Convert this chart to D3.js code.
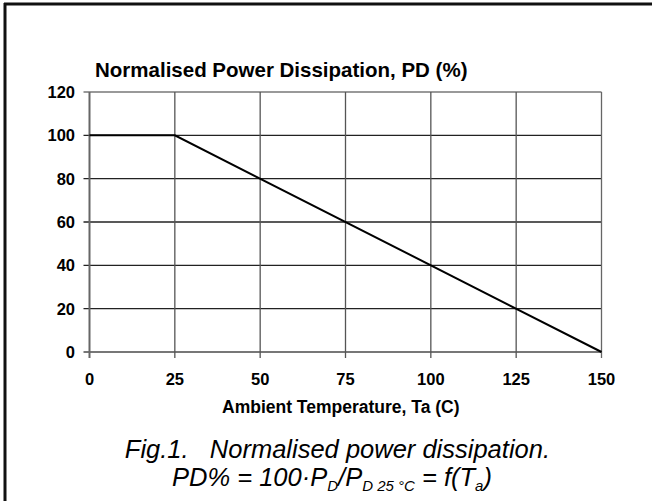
<!DOCTYPE html>
<html>
<head>
<meta charset="utf-8">
<script src="https://cdn.jsdelivr.net/npm/d3@7"></script>
<style>
  body { margin: 0; background: white; }
  svg { display: block; font-family: 'Liberation Sans', Arial, sans-serif; }
</style>
</head>
<body>
<svg id="fig_pd" width="652" height="501"></svg>
<script>
'use strict';

// curve data
var temps = [0, 25, 150];
var pd_pct = [100, 100, 0];

// ticks
var x_ticks = [0, 25, 50, 75, 100, 125, 150];
var y_ticks = [0, 20, 40, 60, 80, 100, 120];

var svg = d3.select('#fig_pd');

// frame (top + left only visible)
svg.append('line').attr('x1', 4).attr('x2', 652).attr('y1', 4).attr('y2', 4)
    .attr('stroke', '#111').attr('stroke-width', 3);
svg.append('line').attr('x1', 5).attr('x2', 5).attr('y1', 3).attr('y2', 501)
    .attr('stroke', '#111').attr('stroke-width', 3);

var x = d3.scaleLinear().domain([0, 150]).range([89.5, 601.5]);
var y = d3.scaleLinear().domain([0, 120]).range([352, 92]);

var g = svg.append('g');

// horizontal grid
g.selectAll('line.hgrid')
    .data(y_ticks)
    .enter()
    .append('line')
    .attr('class', 'hgrid')
    .attr('x1', x(0) - 6)
    .attr('x2', x(150))
    .attr('y1', function(d) { return y(d); })
    .attr('y2', function(d) { return y(d); })
    .attr('stroke', function(d) { return (d == 120 || d == 0) ? '#777' : '#222'; })
    .attr('stroke-width', function(d) { return d == 0 ? 2 : 1.3; });

// vertical grid
g.selectAll('line.vgrid')
    .data(x_ticks)
    .enter()
    .append('line')
    .attr('class', 'vgrid')
    .attr('x1', function(d) { return x(d); })
    .attr('x2', function(d) { return x(d); })
    .attr('y1', y(120))
    .attr('y2', y(0) + 6)
    .attr('stroke', function(d) { return (d == 0 || d == 150) ? '#666' : '#555'; })
    .attr('stroke-width', function(d) { return d == 0 ? 2 : 1.3; });

// y tick labels
g.selectAll('text.ylab')
    .data(y_ticks)
    .enter()
    .append('text')
    .attr('x', 75)
    .attr('y', function(d) { return y(d) + 6; })
    .attr('text-anchor', 'end')
    .attr('font-size', 16.5)
    .attr('font-weight', 'bold')
    .text(function(d) { return d; });

// x tick labels
g.selectAll('text.xlab')
    .data(x_ticks)
    .enter()
    .append('text')
    .attr('x', function(d) { return x(d); })
    .attr('y', 385)
    .attr('text-anchor', 'middle')
    .attr('font-size', 16.5)
    .attr('font-weight', 'bold')
    .text(function(d) { return d; });

// curve
var line = d3.line()
    .x(function(d, i) { return x(temps[i]); })
    .y(function(d, i) { return y(pd_pct[i]); });
g.append('path')
    .attr('d', line(temps))
    .attr('fill', 'none')
    .attr('stroke', '#000')
    .attr('stroke-width', 2);

// titles
svg.append('text')
    .attr('x', 95)
    .attr('y', 77)
    .attr('font-size', 20.5)
    .attr('font-weight', 'bold')
    .text('Normalised Power Dissipation, PD (%)');
svg.append('text')
    .attr('x', 222)
    .attr('y', 413)
    .attr('font-size', 17.5)
    .attr('font-weight', 'bold')
    .text('Ambient Temperature, Ta (C)');

// caption
var cap = svg.append('g')
    .attr('font-style', 'italic');
cap.append('text')
    .attr('x', 550)
    .attr('y', 458)
    .attr('text-anchor', 'end')
    .attr('font-size', 25.5)
    .attr('xml:space', 'preserve')
    .text('Fig.1.   Normalised power dissipation.');
var t2 = cap.append('text')
    .attr('x', 172)
    .attr('y', 486)
    .attr('font-size', 25.5);
t2.append('tspan').text('PD% = 100·P');
t2.append('tspan').attr('font-size', 15).attr('dy', 5).text('D');
t2.append('tspan').attr('dy', -5).text('/P');
t2.append('tspan').attr('font-size', 15).attr('dy', 5).text('D 25 °C');
t2.append('tspan').attr('dy', -5).text(' = f(T');
t2.append('tspan').attr('font-size', 15).attr('dy', 5).text('a');
t2.append('tspan').attr('dy', -5).text(')');
</script>
</body>
</html>
